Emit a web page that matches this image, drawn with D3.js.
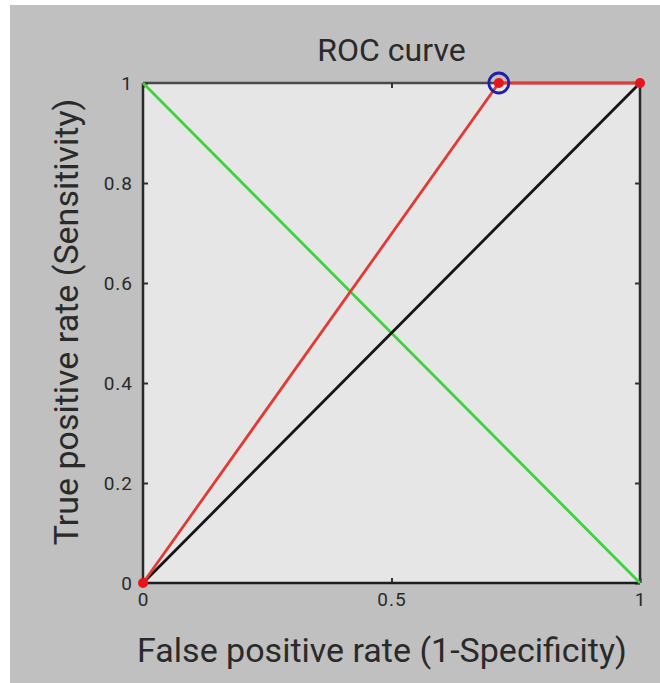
<!DOCTYPE html>
<html>
<head>
<meta charset="utf-8">
<script src="https://cdn.jsdelivr.net/npm/d3@7"></script>
<style>
  html, body { margin: 0; padding: 0; background: #fff; }
  svg { display: block; }
</style>
</head>
<body>
<div id="chart"></div>
<script>
// data
const rocX = [0, 0.716, 1];
const rocY = [0, 1, 1];
const chanceX = [0, 1];
const chanceY = [0, 1];
const antiX = [0, 1];
const antiY = [1, 0];
const optimalPoint = [0.716, 1];
const xTicks = [0, 0.5, 1];
const yTicks = [0, 0.2, 0.4, 0.6, 0.8, 1];

const W = 660, H = 683;
const margin = { top: 83, right: 20, bottom: 100, left: 143 };
const width = 640 - margin.left;
const height = 583 - margin.top;
const font = "Roboto, 'Noto Sans', sans-serif";

const svg = d3.select("#chart").append("svg")
  .attr("width", W)
  .attr("height", H);

// figure background
svg.append("rect")
  .attr("x", 10).attr("y", 5)
  .attr("width", W - 10).attr("height", H - 5)
  .attr("fill", "#c0c0c0");

const g = svg.append("g")
  .attr("transform", `translate(${margin.left},${margin.top})`);

const x = d3.scaleLinear().domain([0, 1]).range([0, width]);
const y = d3.scaleLinear().domain([0, 1]).range([height, 0]);

g.append("rect")
  .attr("width", width).attr("height", height)
  .attr("fill", "#e6e6e6");

// box: top/right
g.append("line").attr("x1", 0).attr("x2", width).attr("y1", 0).attr("y2", 0)
  .attr("stroke", "#4a4a4a").attr("stroke-width", 2.5);
g.append("line").attr("x1", width).attr("x2", width).attr("y1", 0).attr("y2", height)
  .attr("stroke", "#2a2a2a").attr("stroke-width", 2.5);

// axes (ticks inward)
const fmt = d => d === 0 || d === 1 ? String(d) : d3.format(".1f")(d);

const xAxis = g.append("g")
  .attr("transform", `translate(0,${height})`)
  .call(d3.axisBottom(x).tickValues(xTicks).tickSize(-5).tickPadding(12).tickFormat(fmt));
const xTop = g.append("g")
  .call(d3.axisTop(x).tickValues(xTicks).tickSize(-5).tickFormat(""));
const yAxis = g.append("g")
  .call(d3.axisLeft(y).tickValues(yTicks).tickSize(-5).tickPadding(10).tickFormat(fmt));
const yRight = g.append("g")
  .attr("transform", `translate(${width},0)`)
  .call(d3.axisRight(y).tickValues(yTicks).tickSize(-5).tickFormat(""));

[xAxis, xTop, yAxis, yRight].forEach(a => {
  a.select(".domain").remove();
  a.selectAll(".tick line").attr("stroke", "#333").attr("stroke-width", 2);
  a.selectAll("text")
    .attr("fill", "#2a2a2a")
    .style("font-family", font)
    .style("font-size", "19px")
    .style("letter-spacing", "1px");
});
xAxis.selectAll("text").attr("dy", "0.6em");

// left and bottom axis lines
g.append("line").attr("x1", 0).attr("x2", 0).attr("y1", 0).attr("y2", height)
  .attr("stroke", "#2a2a2a").attr("stroke-width", 2.5);
g.append("line").attr("x1", 0).attr("x2", width).attr("y1", height).attr("y2", height)
  .attr("stroke", "#1e1e1e").attr("stroke-width", 2.5);

const line = d3.line().x(d => x(d[0])).y(d => y(d[1]));

g.append("path")
  .datum(antiX.map((v, i) => [v, antiY[i]]))
  .attr("d", line).attr("fill", "none")
  .attr("stroke", "#3fd23f").attr("stroke-width", 2.8);

g.append("path")
  .datum(chanceX.map((v, i) => [v, chanceY[i]]))
  .attr("d", line).attr("fill", "none")
  .attr("stroke", "#151515").attr("stroke-width", 2.8);

const roc = rocX.map((v, i) => [v, rocY[i]]);
g.append("path")
  .datum(roc)
  .attr("d", line).attr("fill", "none")
  .attr("stroke", "#e23a35").attr("stroke-width", 2.8);

g.selectAll(".pt")
  .data(roc)
  .enter().append("circle")
  .attr("class", "pt")
  .attr("cx", d => x(d[0]))
  .attr("cy", d => y(d[1]))
  .attr("r", 5)
  .attr("fill", "#e8141c");

g.append("circle")
  .attr("cx", x(optimalPoint[0]))
  .attr("cy", y(optimalPoint[1]))
  .attr("r", 10)
  .attr("fill", "none")
  .attr("stroke", "#1f1fae")
  .attr("stroke-width", 2.8);

// title and labels
svg.append("text")
  .attr("x", margin.left + width / 2).attr("y", 61)
  .attr("text-anchor", "middle")
  .attr("fill", "#2a2a2a")
  .style("font-family", font).style("font-size", "32px")
  .text("ROC curve");

svg.append("text")
  .attr("x", 382).attr("y", 662)
  .attr("text-anchor", "middle")
  .attr("fill", "#2a2a2a")
  .style("font-family", font).style("font-size", "34px")
  .text("False positive rate (1-Specificity)");

svg.append("text")
  .attr("transform", `translate(78,322) rotate(-90)`)
  .attr("text-anchor", "middle")
  .attr("fill", "#2a2a2a")
  .style("font-family", font).style("font-size", "34px")
  .text("True positive rate (Sensitivity)");
</script>
</body>
</html>
